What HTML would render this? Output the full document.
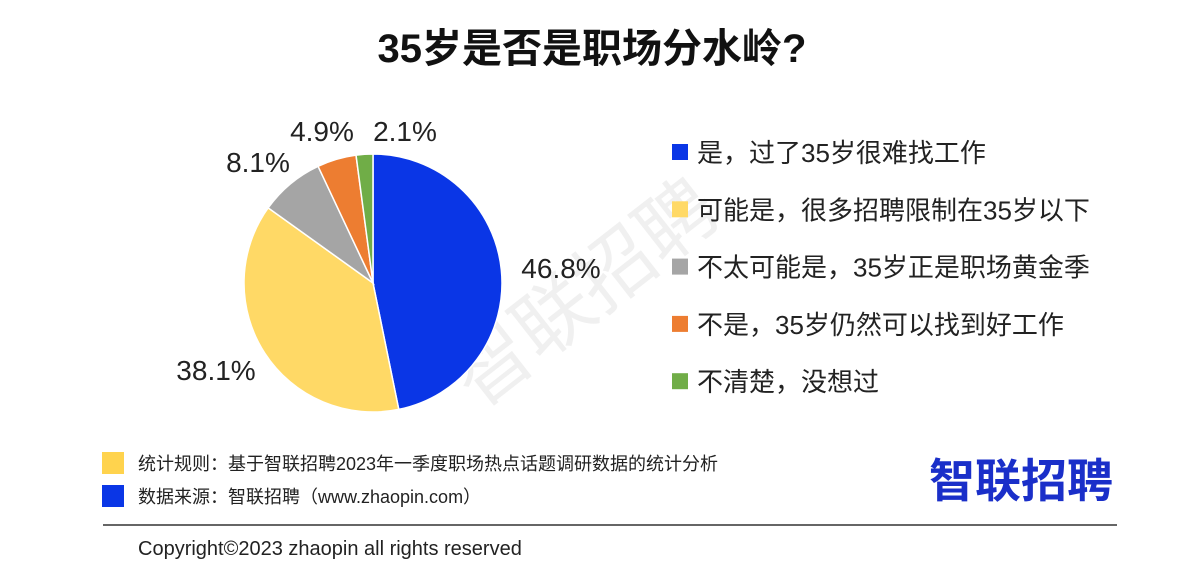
<!DOCTYPE html>
<html><head><meta charset="utf-8"><style>
body{margin:0;width:1200px;height:576px;background:#fff;overflow:hidden;font-family:"Liberation Sans","Noto Sans CJK SC",sans-serif;}
</style></head><body>
<svg width="1200" height="576" viewBox="0 0 1200 576" style="position:absolute;left:0;top:0">
<text x="592" y="62" text-anchor="middle" font-size="40" font-weight="bold" fill="#111" font-family="Liberation Sans, Noto Sans CJK SC, sans-serif">35岁是否是职场分水岭?</text>
<text x="590" y="318" transform="rotate(-38 590 300)" text-anchor="middle" font-size="78" fill="#000" fill-opacity="0.06" font-family="Noto Sans CJK SC, sans-serif">智联招聘</text>
<g id="pie"></g>
<g id="legend"></g>
<rect x="102" y="452" width="22" height="22" fill="#ffd34d"/>
<text x="138" y="470" font-size="18" fill="#222" font-family="Liberation Sans, Noto Sans CJK SC, sans-serif">统计规则：基于智联招聘2023年一季度职场热点话题调研数据的统计分析</text>
<rect x="102" y="485" width="22" height="22" fill="#0a36e6"/>
<text x="138" y="503" font-size="18" fill="#222" font-family="Liberation Sans, Noto Sans CJK SC, sans-serif">数据来源：智联招聘（www.zhaopin.com）</text>
<text x="1021" y="497" text-anchor="middle" font-size="46" font-weight="bold" fill="#1a2fc9" font-family="Noto Sans CJK SC, sans-serif">智联招聘</text>
<line x1="103" y1="525" x2="1117" y2="525" stroke="#333" stroke-width="1.5"/>
<text x="138" y="555" font-size="20" fill="#222">Copyright©2023 zhaopin all rights reserved</text>
</svg>
<script>
const categories=["是，过了35岁很难找工作","可能是，很多招聘限制在35岁以下","不太可能是，35岁正是职场黄金季","不是，35岁仍然可以找到好工作","不清楚，没想过"];
const values=[46.8,38.1,8.1,4.9,2.1];
const labels=["46.8%","38.1%","8.1%","4.9%","2.1%"];
const colors=["#0a36e6","#ffd966","#a5a5a5","#ed7d31","#70ad47"];
const labelPos=[[561,268],[216,370],[258,162],[322,131],[405,131]];
const ns="http://www.w3.org/2000/svg";
const cx=373,cy=283,r=129;
const total=values.reduce((a,b)=>a+b,0);
const pie=document.getElementById('pie');
let a0=0;
values.forEach((v,i)=>{
  const a1=a0+v/total*2*Math.PI;
  const x0=cx+r*Math.sin(a0),y0=cy-r*Math.cos(a0),x1=cx+r*Math.sin(a1),y1=cy-r*Math.cos(a1);
  const p=document.createElementNS(ns,'path');
  p.setAttribute('d',`M${cx},${cy}L${x0},${y0}A${r},${r} 0 ${a1-a0>Math.PI?1:0} 1 ${x1},${y1}Z`);
  p.setAttribute('fill',colors[i]);p.setAttribute('stroke','#fff');p.setAttribute('stroke-width','1.5');
  
  
  pie.appendChild(p);
  const t=document.createElementNS(ns,'text');
  t.setAttribute('x',labelPos[i][0]);t.setAttribute('y',labelPos[i][1]+10);t.setAttribute('text-anchor','middle');
  t.setAttribute('font-size','28');t.setAttribute('fill','#222');
  t.textContent=labels[i];
  
  
  pie.appendChild(t);
  a0=a1;
});
const lg=document.getElementById('legend');
categories.forEach((c,i)=>{
  const y=152+i*57.3;
  const s=document.createElementNS(ns,'rect');
  s.setAttribute('x',672);s.setAttribute('y',y-8);s.setAttribute('width',16);s.setAttribute('height',16);s.setAttribute('fill',colors[i]);
  
  
  lg.appendChild(s);
  const t=document.createElementNS(ns,'text');
  t.setAttribute('x',697);t.setAttribute('y',y+10);t.setAttribute('font-size','26');t.setAttribute('fill','#222');
  t.setAttribute('font-family','Liberation Sans, Noto Sans CJK SC, sans-serif');
  t.textContent=c;
  
  
  lg.appendChild(t);
});
</script>
</body></html>
